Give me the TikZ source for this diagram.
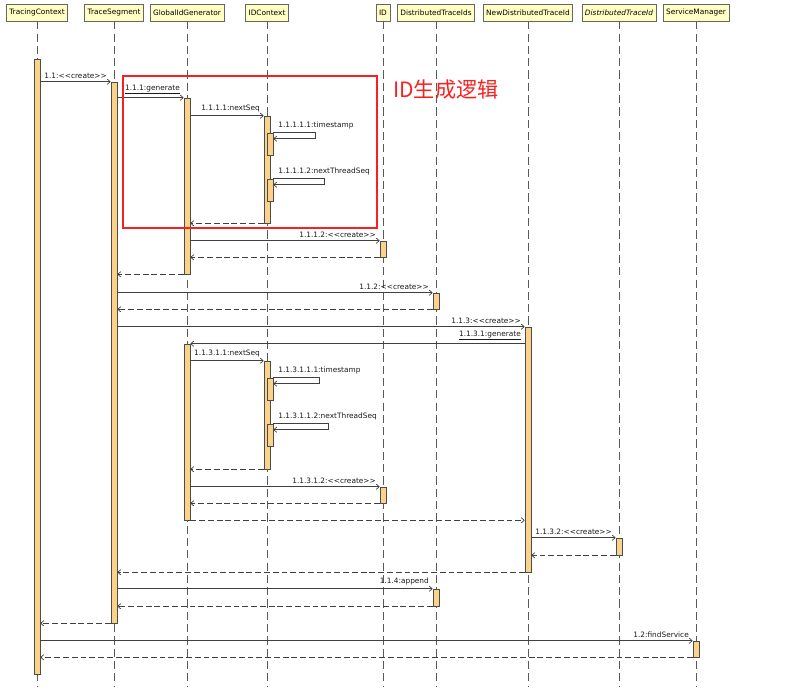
\documentclass[tikz,border=0pt]{standalone}
\usepackage{fontspec}
\usepackage{tikz}
\usetikzlibrary{arrows.meta}
\newfontfamily\seqfont{DejaVu Sans}
\newfontfamily\cjkfont{Noto Sans CJK SC}
\definecolor{headfill}{RGB}{255,255,196}
\definecolor{actfill}{RGB}{250,210,138}
\definecolor{boxred}{RGB}{248,32,32}
\tikzset{
	head/.style={draw=black!60, fill=headfill, minimum height=17*0.03cm, inner xsep=2.5pt, inner ysep=0pt, font=\seqfont\fontsize{6.3}{7}\selectfont},
	lifeline/.style={draw=black!65, line width=0.7pt, dash pattern=on 7pt off 3.5pt},
	actbar/.style={draw=black!70, fill=actfill, line width=0.5pt, minimum width=6*0.03cm, inner sep=0pt},
	msg/.style={draw=black!75, line width=0.6pt, -{Straight Barb[length=2.5pt,width=4.5pt]}},
	ret/.style={msg, dash pattern=on 5pt off 2.5pt},
	msglabel/.style={font=\seqfont\fontsize{6.3}{7}\selectfont, inner sep=1pt, text=black!90, yshift=1.5pt},
}
\def\actbar(#1)(#2:#3:#4){\node[actbar, minimum height={(#4-#3)*0.03cm}] (#1) at (#2, {(#3+#4)/2}) {};}

\begin{document}
\begin{tikzpicture}[x=0.03cm, y=-0.03cm]
	%%%%% START %%%%%
	\useasboundingbox (0,0) rectangle (800,688);
	\coordinate (bottom) at (0,686);
	
	\node[head] (tc) at (37,12.5) {TracingContext};
	\node[head] (ts) at (114,12.5) {TraceSegment};
	\node[head] (gen) at (187,12.5) {GlobalIdGenerator};
	\node[head] (idc) at (267,12.5) {IDContext};
	\node[head] (id) at (383,12.5) {ID};
	\node[head] (dtids) at (436,12.5) {DistributedTraceIds};
	\node[head] (ndtid) at (528,12.5) {NewDistributedTraceId};
	\node[head] (dtid) at (619,12.5) {\textit{DistributedTraceId}};
	\node[head] (sm) at (696,12.5) {ServiceManager};
	
	\foreach \h in {tc,ts,gen,idc,id,dtids,ndtid,dtid,sm}
		\draw[lifeline] (\h.south) -- (\h.south |- bottom);
	
	\actbar(tcA)(37:59:674)
	\actbar(tsA)(114:82:623)
	\actbar(genA)(187:98:274)
	\actbar(genB)(187:344:520)
	\actbar(idcA)(267:116:223)
	\actbar(idcA1)(270:133:155)
	\actbar(idcA2)(270:179:201)
	\actbar(idcB)(267:361:469)
	\actbar(idcB1)(270:378:400)
	\actbar(idcB2)(270:424:446)
	\actbar(idA)(383:241:257)
	\actbar(idB)(383:487:503)
	\actbar(dtidsA)(436:293:309)
	\actbar(dtidsB)(436:589:606)
	\actbar(ndtidA)(528:327:572)
	\actbar(dtidA)(619:538:555)
	\actbar(smA)(696:641:657)
	
	% ID generation
	\draw[msg] (tcA.east |- tsA.north west) -- (tsA.north west) node[msglabel, pos=1, anchor=south east, xshift=-2pt] (l11) {1.1:<<create>>};
	\draw[msg] (tsA.east |- genA.north west) -- (genA.north west) node[msglabel, pos=1, anchor=south east, xshift=-2pt] (l111) {\underline{1.1.1:generate}};
	\draw[msg] (genA.east |- idcA.north west) -- (idcA.north west) node[msglabel, pos=1, anchor=south east, xshift=-2pt] (l1111) {1.1.1.1:nextSeq};
	\draw[msg] (idcA1.north east) -- ++(42,0) node[msglabel, pos=0, anchor=south west, xshift=3pt] (l11111) {1.1.1.1.1:timestamp} -- ++(0,6) -- ++(-42,0);
	\draw[msg] (idcA2.north east) -- ++(51,0) node[msglabel, pos=0, anchor=south west, xshift=3pt] (l11112) {1.1.1.1.2:nextThreadSeq} -- ++(0,6) -- ++(-51,0);
	\draw[ret] (idcA.south west) -- (genA.east |- idcA.south west);
	\draw[msg] (genA.east |- idA.north west) -- (idA.north west) node[msglabel, pos=1, anchor=south east, xshift=-2pt] (l1112) {1.1.1.2:<<create>>};
	\draw[ret] (idA.south west) -- (genA.east |- idA.south west);
	\draw[ret] (genA.south west) -- (tsA.east |- genA.south west);
	
	\draw[msg] (tsA.east |- dtidsA.north west) -- (dtidsA.north west) node[msglabel, pos=1, anchor=south east, xshift=-2pt] (l112) {1.1.2:<<create>>};
	\draw[ret] (dtidsA.south west) -- (tsA.east |- dtidsA.south west);
	
	% new distributed trace id
	\draw[msg] (tsA.east |- ndtidA.north west) -- (ndtidA.north west) node[msglabel, pos=1, anchor=south east, xshift=-2pt] (l113) {1.1.3:<<create>>};
	\draw[msg] (ndtidA.west |- genB.north east) -- (genB.north east) node[msglabel, pos=0, anchor=south east, xshift=-2pt] (l1131) {\underline{1.1.3.1:generate}};
	\draw[msg] (genB.east |- idcB.north west) -- (idcB.north west) node[msglabel, pos=1, anchor=south east, xshift=-2pt] (l11311) {1.1.3.1.1:nextSeq};
	\draw[msg] (idcB1.north east) -- ++(46,0) node[msglabel, pos=0, anchor=south west, xshift=3pt] (l113111) {1.1.3.1.1.1:timestamp} -- ++(0,6) -- ++(-46,0);
	\draw[msg] (idcB2.north east) -- ++(55,0) node[msglabel, pos=0, anchor=south west, xshift=3pt] (l113112) {1.1.3.1.1.2:nextThreadSeq} -- ++(0,6) -- ++(-55,0);
	\draw[ret] (idcB.south west) -- (genB.east |- idcB.south west);
	\draw[msg] (genB.east |- idB.north west) -- (idB.north west) node[msglabel, pos=1, anchor=south east, xshift=-2pt] (l11312) {1.1.3.1.2:<<create>>};
	\draw[ret] (idB.south west) -- (genB.east |- idB.south west);
	\draw[ret] (genB.south east) -- (ndtidA.west |- genB.south east);
	\draw[msg] (ndtidA.east |- dtidA.north west) -- (dtidA.north west) node[msglabel, pos=1, anchor=south east, xshift=-2pt] (l1132) {1.1.3.2:<<create>>};
	\draw[ret] (dtidA.south west) -- (ndtidA.east |- dtidA.south west);
	\draw[ret] (ndtidA.south west) -- (tsA.east |- ndtidA.south west);
	
	\draw[msg] (tsA.east |- dtidsB.north west) -- (dtidsB.north west) node[msglabel, pos=1, anchor=south east, xshift=-2pt] (l114) {1.1.4:append};
	\draw[ret] (dtidsB.south west) -- (tsA.east |- dtidsB.south west);
	\draw[ret] (tsA.south west) -- (tcA.east |- tsA.south west);
	
	\draw[msg] (tcA.east |- smA.north west) -- (smA.north west) node[msglabel, pos=1, anchor=south east, xshift=-2pt] (l12) {1.2:findService};
	\draw[ret] (smA.south west) -- (tcA.east |- smA.south west);
	
	% red frame
	\draw[boxred, line width=1.6pt] (123,76) rectangle (377,228);
	\node[text=boxred, font=\cjkfont\fontsize{18}{20}\selectfont, anchor=west, inner sep=0pt] (idnote) at (393,90) {ID生成逻辑};
	%%%%% END %%%%%
\end{tikzpicture}
\end{document}
